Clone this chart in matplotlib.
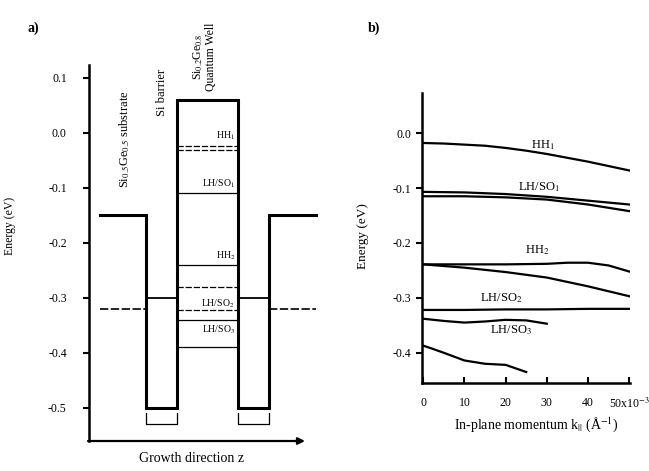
import matplotlib
matplotlib.use('Agg')
import matplotlib.pyplot as plt

plt.rcParams['font.family'] = 'Liberation Serif'
plt.rcParams['mathtext.fontset'] = 'stix'

# ---- panel a: valence band profile along growth direction (arbitrary z units)
layer_z = [11, 57, 88, 149, 180, 227]
band_edge = [-0.15, -0.5, 0.06, -0.5, -0.15]
barrier_level = -0.30
substrate_level = -0.32
well_levels = [-0.024, -0.031, -0.109, -0.24, -0.28, -0.322, -0.34, -0.39]
well_dashed = [True, True, False, False, True, True, False, False]
well_names = ['HH$_1$', 'LH/SO$_1$', 'HH$_2$', 'LH/SO$_2$', 'LH/SO$_3$']
well_name_E = [-0.005, -0.092, -0.223, -0.31, -0.357]
a_ticks = [0.1, 0.0, -0.1, -0.2, -0.3, -0.4, -0.5]

# ---- panel b: in-plane dispersion, k in 1e-3 1/A
hh1_k = [0, 5, 10, 15, 20, 25, 30, 35, 40, 45, 50]
hh1_E = [-0.018, -0.019, -0.021, -0.023, -0.027, -0.032, -0.038, -0.045, -0.052, -0.060, -0.068]
lh1_k = [0, 10, 20, 30, 40, 50]
lh1a_E = [-0.107, -0.108, -0.111, -0.116, -0.123, -0.130]
lh1b_E = [-0.115, -0.115, -0.117, -0.121, -0.130, -0.142]
hh2a_k = [0, 10, 20, 30, 35, 40, 45, 50]
hh2a_E = [-0.239, -0.239, -0.239, -0.238, -0.236, -0.236, -0.241, -0.252]
hh2b_k = [0, 10, 20, 30, 40, 50]
hh2b_E = [-0.239, -0.245, -0.253, -0.263, -0.279, -0.297]
lh2_k = [0, 10, 20, 30, 40, 50]
lh2_E = [-0.322, -0.322, -0.321, -0.321, -0.320, -0.320]
lh3_k = [0, 5, 10, 15, 20, 25, 30]
lh3_E = [-0.338, -0.342, -0.345, -0.343, -0.340, -0.341, -0.347]
low_k = [0, 2, 5, 10, 15, 20, 25]
low_E = [-0.387, -0.392, -0.400, -0.414, -0.420, -0.422, -0.435]
b_xticks = [0, 10, 20, 30, 40, 50]
b_xlabels = ['0', '10', '20', '30', '40', '50x10$^{-3}$']
b_yticks = [0.0, -0.1, -0.2, -0.3, -0.4]

fig = plt.figure(figsize=(6.49, 4.71), dpi=100)

# ================= panel a
ax = fig.add_axes([89/649, 1-441/471, 231/649, 376/471])
ax.set_xlim(0, 231)
ax.set_ylim(-0.56, 0.1235)

zs, es = [], []
for i, e in enumerate(band_edge):
    zs += [layer_z[i], layer_z[i+1]]
    es += [e, e]
ax.plot(zs, es, color='black', lw=2.2, solid_joinstyle='miter')

# barrier line and substrate dashed line
for i in (1, 3):
    ax.plot([layer_z[i], layer_z[i+1]], [barrier_level]*2, color='black', lw=1.3)
    ax.plot([layer_z[i], layer_z[i], layer_z[i+1], layer_z[i+1]],
            [-0.51, -0.53, -0.53, -0.51], color='black', lw=0.9)
for i in (0, 4):
    ax.plot([layer_z[i], layer_z[i+1]], [substrate_level]*2, color='black',
            lw=1.2, ls=(0, (5, 1.5)))

for lev, dsh in zip(well_levels, well_dashed):
    ax.plot([layer_z[2], layer_z[3]], [lev]*2, color='black', lw=0.9,
            ls=(0, (5, 1.5)) if dsh else '-')
for name, e in zip(well_names, well_name_E):
    ax.text(layer_z[3]-3, e, name, ha='right', va='center', fontsize=7)

ax.text(36, -0.10, 'Si$_{0.5}$Ge$_{0.5}$ substrate', rotation=90,
        ha='center', va='bottom', fontsize=9)
ax.text(73, 0.031, 'Si barrier', rotation=90, ha='center', va='bottom', fontsize=9)
ax.text(115, 0.076, 'Si$_{0.2}$Ge$_{0.8}$\nQuantum Well', rotation=90,
        ha='center', va='bottom', multialignment='center', fontsize=8.5,
        linespacing=0.95)

for s in ('top', 'right', 'bottom'):
    ax.spines[s].set_visible(False)
ax.spines['left'].set_linewidth(1.8)
ax.set_xticks([])
ax.set_yticks(a_ticks)
ax.set_yticklabels(['%.1f' % t for t in a_ticks])
ax.tick_params(axis='y', direction='out', length=4, width=1.5, pad=12, labelsize=8.5)
ax.annotate('', xy=(216, -0.56), xytext=(-1, -0.56), annotation_clip=False,
            arrowprops=dict(arrowstyle='-|>', lw=1.6, color='black',
                            mutation_scale=10, shrinkA=0, shrinkB=0))
fig.text(192/649, 1-459/471, 'Growth direction z', ha='center', va='center', fontsize=10)
fig.text(10/649, 1-226/471, 'Energy (eV)', rotation=90, ha='center', va='center', fontsize=8.5)
fig.text(27/649, 1-28/471, 'a)', ha='left', va='center', fontsize=10, weight='bold')

# ================= panel b
bx = fig.add_axes([422/649, 1-383/471, 208/649, 290/471])
bx.set_xlim(-0.3, 50.2)
bx.set_ylim(-0.455, 0.073)
curves = [(hh1_k, hh1_E), (lh1_k, lh1a_E), (lh1_k, lh1b_E), (hh2a_k, hh2a_E),
          (hh2b_k, hh2b_E), (lh2_k, lh2_E), (lh3_k, lh3_E), (low_k, low_E)]
for kk, ee in curves:
    bx.plot(kk, ee, color='black', lw=1.6)

bx.text(29, -0.022, 'HH$_1$', ha='center', va='center', fontsize=9)
bx.text(28, -0.099, 'LH/SO$_1$', ha='center', va='center', fontsize=9)
bx.text(27.7, -0.213, 'HH$_2$', ha='center', va='center', fontsize=9)
bx.text(19, -0.301, 'LH/SO$_2$', ha='center', va='center', fontsize=9)
bx.text(21.4, -0.359, 'LH/SO$_3$', ha='center', va='center', fontsize=9)

for s in ('top', 'right'):
    bx.spines[s].set_visible(False)
bx.spines['left'].set_linewidth(1.8)
bx.spines['bottom'].set_linewidth(1.8)
bx.set_xticks(b_xticks)
bx.set_xticklabels(b_xlabels)
bx.set_yticks(b_yticks)
bx.set_yticklabels(['%.1f' % t for t in b_yticks])
bx.tick_params(axis='x', direction='in', length=4, width=1.5, pad=10, labelsize=8.5)
bx.tick_params(axis='y', direction='out', length=4, width=1.5, pad=4, labelsize=8.5)
fig.text(536/649, 1-425/471, 'In-plane momentum k$_{||}$ (Å$^{-1}$)',
         ha='center', va='center', fontsize=10)
fig.text(363/649, 1-236/471, 'Energy (eV)', rotation=90, ha='center', va='center', fontsize=9.5)
fig.text(368/649, 1-28/471, 'b)', ha='left', va='center', fontsize=10, weight='bold')

fig.savefig('out.png', dpi=100)
